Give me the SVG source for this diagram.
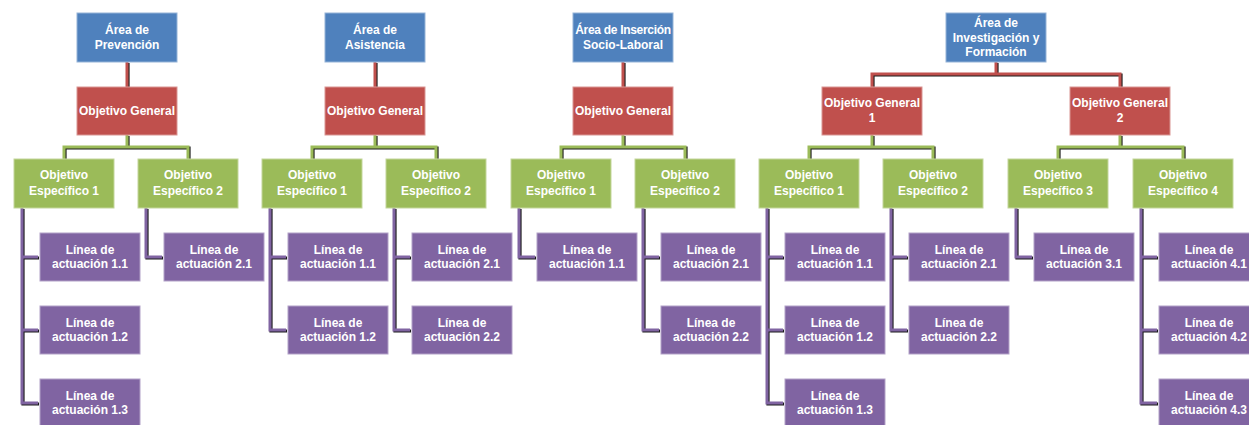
<svg xmlns="http://www.w3.org/2000/svg" width="1249" height="425" viewBox="0 0 1249 425">
<style>
  .n rect{stroke-width:1}
  .blue rect{fill:#4F81BD;stroke:#95B3D7}
  .red rect{fill:#C0504D;stroke:#D99694}
  .green rect{fill:#9BBB59;stroke:#C3D69B}
  .purple rect{fill:#8064A2;stroke:#B2A1C7}
  text{font-family:"Liberation Sans",Arial,sans-serif;font-size:12px;font-weight:bold;fill:#ffffff;text-anchor:middle}
  .sh path{fill:none;stroke:#1c1c1c;stroke-width:3.2;stroke-linejoin:miter}
  .cr{fill:none;stroke:#C0504D;stroke-width:3}
  .cg{fill:none;stroke:#9BBB59;stroke-width:3}
  .cp{fill:none;stroke:#8064A2;stroke-width:3}
</style>
<rect width="1249" height="425" fill="#ffffff"/>
<g id="connectors">
  <g class="sh" transform="translate(1,1)">
    <path d="M127 62V87M375 62V87M623 62V87M996 62V74M872 87V74H1120V87"/>
    <path d="M127 135V147M64 159V147H188V159M375 135V147M312 159V147H436V159M623 135V147M561 159V147H685V159M872 135V147M809 159V147H933V159M1120 135V147M1058 159V147H1183V159"/>
    <path d="M22 208V403H38M22 257H38M22 330H38M146 208V257H162M270 208V330H286M270 257H286M394 208V330H410M394 257H410M519 208V257H535M643 208V330H659M643 257H659M767 208V403H783M767 257H783M767 330H783M891 208V330H907M891 257H907M1016 208V257H1032M1141 208V403H1157M1141 257H1157M1141 330H1157"/>
  </g>
  <path class="cr" d="M127 62V87M375 62V87M623 62V87M996 62V74M872 87V74H1120V87"/>
  <path class="cg" d="M127 135V147M64 159V147H188V159M375 135V147M312 159V147H436V159M623 135V147M561 159V147H685V159M872 135V147M809 159V147H933V159M1120 135V147M1058 159V147H1183V159"/>
  <path class="cp" d="M22 208V403H38M22 257H38M22 330H38M146 208V257H162M270 208V330H286M270 257H286M394 208V330H410M394 257H410M519 208V257H535M643 208V330H659M643 257H659M767 208V403H783M767 257H783M767 330H783M891 208V330H907M891 257H907M1016 208V257H1032M1141 208V403H1157M1141 257H1157M1141 330H1157"/>
</g>

<!-- Area nodes -->
<g id="area-prevencion" class="n blue"><rect x="77" y="13" width="100" height="49"/><text x="127" y="34">Área de</text><text x="127" y="48.5">Prevención</text></g>
<g id="area-asistencia" class="n blue"><rect x="325" y="13" width="100" height="49"/><text x="375" y="34">Área de</text><text x="375" y="48.5">Asistencia</text></g>
<g id="area-insercion" class="n blue"><rect x="573" y="13" width="100" height="49"/><text x="623" y="34" style="letter-spacing:-0.3px">Área de Inserción</text><text x="623" y="48.5">Socio-Laboral</text></g>
<g id="area-investigacion" class="n blue"><rect x="946" y="13" width="100" height="49"/><text x="996" y="27">Área de</text><text x="996" y="41.5">Investigación y</text><text x="996" y="56">Formación</text></g>

<!-- General objectives -->
<g id="og-prevencion" class="n red"><rect x="77" y="87" width="100" height="48"/><text x="127" y="115">Objetivo General</text></g>
<g id="og-asistencia" class="n red"><rect x="325" y="87" width="100" height="48"/><text x="375" y="115">Objetivo General</text></g>
<g id="og-insercion" class="n red"><rect x="573" y="87" width="100" height="48"/><text x="623" y="115">Objetivo General</text></g>
<g id="og1-investigacion" class="n red"><rect x="822" y="87" width="100" height="48"/><text x="872" y="107">Objetivo General</text><text x="872" y="122">1</text></g>
<g id="og2-investigacion" class="n red"><rect x="1070" y="87" width="100" height="48"/><text x="1120" y="107">Objetivo General</text><text x="1120" y="122">2</text></g>

<!-- Specific objectives -->
<g id="oe1-prevencion" class="n green"><rect x="14" y="159" width="100" height="49"/><text x="64" y="179">Objetivo</text><text x="64" y="195">Específico 1</text></g>
<g id="oe2-prevencion" class="n green"><rect x="138" y="159" width="100" height="49"/><text x="188" y="179">Objetivo</text><text x="188" y="195">Específico 2</text></g>
<g id="oe1-asistencia" class="n green"><rect x="262" y="159" width="100" height="49"/><text x="312" y="179">Objetivo</text><text x="312" y="195">Específico 1</text></g>
<g id="oe2-asistencia" class="n green"><rect x="386" y="159" width="100" height="49"/><text x="436" y="179">Objetivo</text><text x="436" y="195">Específico 2</text></g>
<g id="oe1-insercion" class="n green"><rect x="511" y="159" width="100" height="49"/><text x="561" y="179">Objetivo</text><text x="561" y="195">Específico 1</text></g>
<g id="oe2-insercion" class="n green"><rect x="635" y="159" width="100" height="49"/><text x="685" y="179">Objetivo</text><text x="685" y="195">Específico 2</text></g>
<g id="oe1-investigacion" class="n green"><rect x="759" y="159" width="100" height="49"/><text x="809" y="179">Objetivo</text><text x="809" y="195">Específico 1</text></g>
<g id="oe2-investigacion" class="n green"><rect x="883" y="159" width="100" height="49"/><text x="933" y="179">Objetivo</text><text x="933" y="195">Específico 2</text></g>
<g id="oe3-investigacion" class="n green"><rect x="1008" y="159" width="100" height="49"/><text x="1058" y="179">Objetivo</text><text x="1058" y="195">Específico 3</text></g>
<g id="oe4-investigacion" class="n green"><rect x="1133" y="159" width="100" height="49"/><text x="1183" y="179">Objetivo</text><text x="1183" y="195">Específico 4</text></g>

<!-- Lines of action -->
<g id="la11-prevencion" class="n purple"><rect x="40" y="233" width="100" height="48"/><text x="90" y="254">Línea de</text><text x="90" y="268">actuación 1.1</text></g>
<g id="la12-prevencion" class="n purple"><rect x="40" y="306" width="100" height="48"/><text x="90" y="327">Línea de</text><text x="90" y="341">actuación 1.2</text></g>
<g id="la13-prevencion" class="n purple"><rect x="40" y="379" width="100" height="48"/><text x="90" y="400">Línea de</text><text x="90" y="414">actuación 1.3</text></g>
<g id="la21-prevencion" class="n purple"><rect x="164" y="233" width="100" height="48"/><text x="214" y="254">Línea de</text><text x="214" y="268">actuación 2.1</text></g>

<g id="la11-asistencia" class="n purple"><rect x="288" y="233" width="100" height="48"/><text x="338" y="254">Línea de</text><text x="338" y="268">actuación 1.1</text></g>
<g id="la12-asistencia" class="n purple"><rect x="288" y="306" width="100" height="48"/><text x="338" y="327">Línea de</text><text x="338" y="341">actuación 1.2</text></g>
<g id="la21-asistencia" class="n purple"><rect x="412" y="233" width="100" height="48"/><text x="462" y="254">Línea de</text><text x="462" y="268">actuación 2.1</text></g>
<g id="la22-asistencia" class="n purple"><rect x="412" y="306" width="100" height="48"/><text x="462" y="327">Línea de</text><text x="462" y="341">actuación 2.2</text></g>

<g id="la11-insercion" class="n purple"><rect x="537" y="233" width="100" height="48"/><text x="587" y="254">Línea de</text><text x="587" y="268">actuación 1.1</text></g>
<g id="la21-insercion" class="n purple"><rect x="661" y="233" width="100" height="48"/><text x="711" y="254">Línea de</text><text x="711" y="268">actuación 2.1</text></g>
<g id="la22-insercion" class="n purple"><rect x="661" y="306" width="100" height="48"/><text x="711" y="327">Línea de</text><text x="711" y="341">actuación 2.2</text></g>

<g id="la11-investigacion" class="n purple"><rect x="785" y="233" width="100" height="48"/><text x="835" y="254">Línea de</text><text x="835" y="268">actuación 1.1</text></g>
<g id="la12-investigacion" class="n purple"><rect x="785" y="306" width="100" height="48"/><text x="835" y="327">Línea de</text><text x="835" y="341">actuación 1.2</text></g>
<g id="la13-investigacion" class="n purple"><rect x="785" y="379" width="100" height="48"/><text x="835" y="400">Línea de</text><text x="835" y="414">actuación 1.3</text></g>
<g id="la21-investigacion" class="n purple"><rect x="909" y="233" width="100" height="48"/><text x="959" y="254">Línea de</text><text x="959" y="268">actuación 2.1</text></g>
<g id="la22-investigacion" class="n purple"><rect x="909" y="306" width="100" height="48"/><text x="959" y="327">Línea de</text><text x="959" y="341">actuación 2.2</text></g>
<g id="la31-investigacion" class="n purple"><rect x="1034" y="233" width="100" height="48"/><text x="1084" y="254">Línea de</text><text x="1084" y="268">actuación 3.1</text></g>
<g id="la41-investigacion" class="n purple"><rect x="1159" y="233" width="100" height="48"/><text x="1209" y="254">Línea de</text><text x="1209" y="268">actuación 4.1</text></g>
<g id="la42-investigacion" class="n purple"><rect x="1159" y="306" width="100" height="48"/><text x="1209" y="327">Línea de</text><text x="1209" y="341">actuación 4.2</text></g>
<g id="la43-investigacion" class="n purple"><rect x="1159" y="379" width="100" height="48"/><text x="1209" y="400">Línea de</text><text x="1209" y="414">actuación 4.3</text></g>
</svg>
